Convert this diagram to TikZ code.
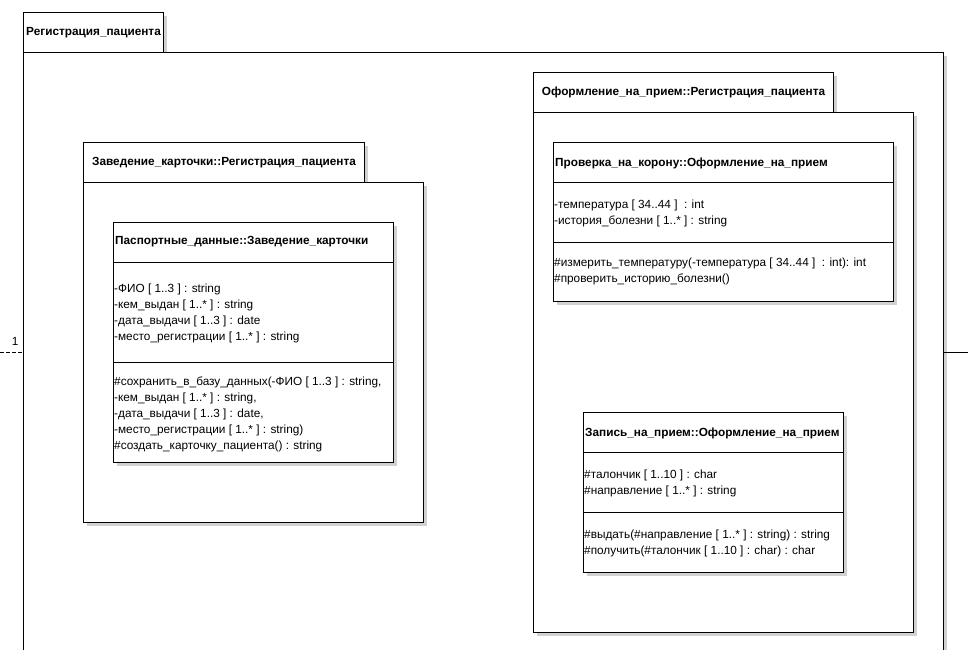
\documentclass[tikz,border=0pt]{standalone}
\usepackage{fontspec}
\setmainfont{Liberation Sans}
\usetikzlibrary{positioning, shadows}

\begin{document}
\begin{tikzpicture}[
  x=1pt, y=-1pt,
  font=\fontsize{11.8}{16}\selectfont,
  box/.style={draw, fill=white, line width=1pt, anchor=north west, inner sep=0pt,
    drop shadow={shadow xshift=3pt, shadow yshift=-3pt, fill=black!18, opacity=1}},
  tab/.style={box, font=\fontsize{11.8}{16}\selectfont\bfseries, minimum height=40},
  title/.style={anchor=west, inner sep=0pt, font=\fontsize{11.8}{16}\selectfont\bfseries},
  members/.style={anchor=north west, inner sep=0pt, align=left},
  sep/.style={line width=1pt}]
\useasboundingbox (0,0) rectangle (968,649);
\clip (0,0) rectangle (968,649);

% outer package
\node[tab, minimum width=140] (regtab) at (23,12) {Регистрация\_пациента};
\node[box, minimum width=920, minimum height=640] (reg) at (23,52) {};

% link ends leaving the picture
\coordinate (linkl) at (0,352);
\coordinate (linkr) at (968,352);
\draw[line width=1pt, dash pattern=on 4pt off 2pt] (linkl) -- (linkl -| reg.west)
  node[anchor=south east, inner sep=0pt, xshift=-4pt, yshift=6pt] (mult) {1};
\draw[line width=1pt] (linkr -| reg.east) -- (linkr);

% Заведение_карточки
\node[tab, minimum width=281] (zavtab) at (83,142) {Заведение\_карточки::Регистрация\_пациента};
\node[box, minimum width=340, minimum height=340] (zav) at (83,182) {};

\node[box, minimum width=280, minimum height=240] (pasp) at (113,222) {};
\draw[sep] ([yshift=-40pt]pasp.north west) -- ([yshift=-40pt]pasp.north east);
\draw[sep] ([yshift=-140pt]pasp.north west) -- ([yshift=-140pt]pasp.north east);
\node[title] (pasp-name) at (115,242) {Паспортные\_данные::Заведение\_карточки};
\node[members] (pasp-attr) at (114,284) {-ФИО [ 1..3 ] : string\\
  -кем\_выдан [ 1..* ] : string\\
  -дата\_выдачи [ 1..3 ] : date\\
  -место\_регистрации [ 1..* ] : string};
\node[members] (pasp-ops) at (114,377) {\#сохранить\_в\_базу\_данных(-ФИО [ 1..3 ] : string,\\
  -кем\_выдан [ 1..* ] : string,\\
  -дата\_выдачи [ 1..3 ] : date,\\
  -место\_регистрации [ 1..* ] : string)\\
  \#создать\_карточку\_пациента() : string};

% Оформление_на_прием
\node[tab, minimum width=300] (oftab) at (533,72) {Оформление\_на\_прием::Регистрация\_пациента};
\node[box, minimum width=380, minimum height=520] (of) at (533,112) {};

\node[box, minimum width=340, minimum height=159] (prov) at (553,142) {};
\draw[sep] ([yshift=-40pt]prov.north west) -- ([yshift=-40pt]prov.north east);
\draw[sep] ([yshift=-100pt]prov.north west) -- ([yshift=-100pt]prov.north east);
\node[title] (prov-name) at (555,163) {Проверка\_на\_корону::Оформление\_на\_прием};
\node[members] (prov-attr) at (554,200) {-температура [ 34..44 ] \ : int\\
  -история\_болезни [ 1..* ] : string};
\node[members] (prov-ops) at (554,258) {\#измерить\_температуру(-температура [ 34..44 ] \ : int): int\\
  \#проверить\_историю\_болезни()};

\node[box, minimum width=260, minimum height=160] (zap) at (583,412) {};
\draw[sep] ([yshift=-40pt]zap.north west) -- ([yshift=-40pt]zap.north east);
\draw[sep] ([yshift=-100pt]zap.north west) -- ([yshift=-100pt]zap.north east);
\node[title] (zap-name) at (585,433) {Запись\_на\_прием::Оформление\_на\_прием};
\node[members] (zap-attr) at (584,470) {\#талончик [ 1..10 ] : char\\
  \#направление [ 1..* ] : string};
\node[members] (zap-ops) at (584,530) {\#выдать(\#направление [ 1..* ] : string) : string\\
  \#получить(\#талончик [ 1..10 ] : char) : char};
\end{tikzpicture}
\end{document}
